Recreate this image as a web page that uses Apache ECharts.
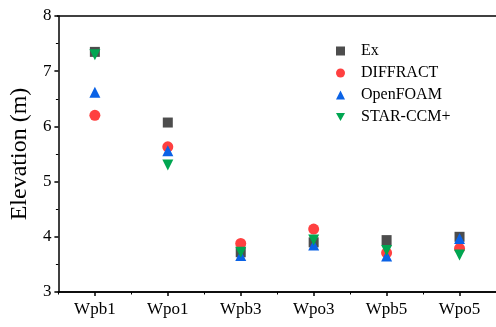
<!DOCTYPE html>
<html>
<head>
<meta charset="utf-8">
<script src="https://cdn.jsdelivr.net/npm/echarts@6/dist/echarts.min.js"></script>
<style>
  html, body { margin: 0; padding: 0; background: #fff; }
  #chart { width: 496px; height: 327px; }
</style>
</head>
<body>
<div id="chart"></div>
<script>
// Wave-gauge locations along the x axis
const categories = ['Wpb1', 'Wpo1', 'Wpb3', 'Wpo3', 'Wpb5', 'Wpo5'];

// Maximum elevation (m) at each gauge
const exValues        = [7.35, 6.07, 3.72, 3.90, 3.94, 4.00];
const diffractValues  = [6.20, 5.63, 3.88, 4.14, 3.71, 3.79];
const openfoamValues  = [6.62, 5.56, 3.66, 3.85, 3.65, 3.97];
const starValues      = [7.30, 5.30, 3.72, 3.94, 3.75, 3.67];

const yTicks = [3, 4, 5, 6, 7, 8];

const serif = '"Liberation Serif", "Times New Roman", serif';

const chart = echarts.init(document.getElementById('chart'), null, { renderer: 'canvas' });

function series(name, data, symbol, color, size, rotate) {
  return {
    name: name,
    type: 'scatter',
    xAxisIndex: 0,
    yAxisIndex: 0,
    data: data,
    symbol: symbol,
    symbolSize: size,
    symbolRotate: rotate || 0,
    itemStyle: { color: color, opacity: 1 }
  };
}

chart.setOption({
  animation: false,
  textStyle: { fontFamily: serif },
  grid: { left: 57, right: -9, top: 16, bottom: 35 },
  legend: {
    orient: 'vertical',
    left: 331,
    top: 38,
    itemGap: 6,
    itemWidth: 9,
    itemHeight: 9,
    textStyle: { fontFamily: serif, fontSize: 16, color: '#000', padding: [0, 0, 0, 11] },
    data: [
      { name: 'Ex', icon: 'rect' },
      { name: 'DIFFRACT', icon: 'circle' },
      { name: 'OpenFOAM', icon: 'triangle' },
      { name: 'STAR-CCM+', icon: 'path://M0,0 L10,0 L5,9 Z' }
    ]
  },
  xAxis: [{
    type: 'category',
    data: categories,
    boundaryGap: true,
    axisLine: { lineStyle: { color: '#000', width: 1.5 } },
    axisTick: { show: true, alignWithLabel: true, length: 4, lineStyle: { color: '#000', width: 1.5 } },
    axisLabel: { color: '#000', fontSize: 17, fontFamily: serif, margin: 9 },
    splitLine: { show: false },
    z: 3
  }, {
    // boundary ticks between gauges
    type: 'category',
    data: categories,
    position: 'bottom',
    boundaryGap: true,
    axisLine: { show: true, lineStyle: { color: '#000', width: 1.5 } },
    axisTick: { show: true, alignWithLabel: false, length: 2.5, lineStyle: { color: '#000', width: 1 } },
    axisLabel: { show: false },
    splitLine: { show: false },
    z: 2
  }],
  yAxis: [{
    type: 'value',
    min: 3,
    max: 8,
    interval: 1,
    name: 'Elevation (m)',
    nameLocation: 'middle',
    nameGap: 21,
    nameTextStyle: { fontFamily: serif, fontSize: 24, color: '#000' },
    axisLine: { show: true, lineStyle: { color: '#000', width: 1.5 } },
    axisTick: { show: true, length: 4, lineStyle: { color: '#000', width: 1.5 } },
    minorTick: { show: true, splitNumber: 2, length: 2.5, lineStyle: { color: '#000', width: 1 } },
    axisLabel: {
      color: '#000', fontSize: 17, fontFamily: serif, margin: 7,
      formatter: v => (yTicks.includes(v) ? String(v) : '')
    },
    splitLine: { show: false }
  }],
  graphic: [{
    type: 'line',
    shape: { x1: 57, y1: 16, x2: 496, y2: 16 },
    style: { stroke: '#000', lineWidth: 1.5 },
    z: 10
  }],
  series: [
    series('Ex', exValues, 'rect', '#4d4d4d', 10),
    series('DIFFRACT', diffractValues, 'circle', '#ff4040', 11),
    series('OpenFOAM', openfoamValues, 'triangle', '#0a62e6', 11),
    series('STAR-CCM+', starValues, 'triangle', '#00a651', 11, 180)
  ]
});
</script>
</body>
</html>
